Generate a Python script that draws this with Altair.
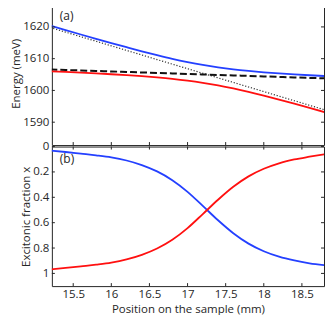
import altair as alt
import pandas as pd

FONT = "Open Sans"
INK = "#262626"
BLUE = "#2440ff"
RED = "#ff1010"

# ---- data ----
position = [15.2, 15.4, 15.6, 15.8, 16.0, 16.2, 16.4, 16.6, 16.8, 17.0,
            17.2, 17.4, 17.6, 17.8, 18.0, 18.2, 18.4, 18.6, 18.8]
upper_polariton = [1620.37, 1618.98, 1617.61, 1616.26, 1614.92, 1613.61, 1612.33, 1611.12,
                   1609.97, 1608.94, 1608.03, 1607.26, 1606.63, 1606.13, 1605.71, 1605.36,
                   1605.05, 1604.78, 1604.53]
lower_polariton = [1606.03, 1605.82, 1605.60, 1605.36, 1605.10, 1604.81, 1604.49, 1604.11,
                   1603.66, 1603.10, 1602.41, 1601.58, 1600.61, 1599.53, 1598.35, 1597.10,
                   1595.81, 1594.49, 1593.15]
exciton = [1606.60, 1606.44, 1606.29, 1606.13, 1605.98, 1605.82, 1605.66, 1605.51, 1605.35,
           1605.20, 1605.04, 1604.88, 1604.73, 1604.57, 1604.42, 1604.26, 1604.10, 1603.95,
           1603.79]
photon = [1619.80, 1618.36, 1616.92, 1615.48, 1614.04, 1612.60, 1611.16, 1609.72, 1608.28,
          1606.84, 1605.40, 1603.96, 1602.52, 1601.08, 1599.64, 1598.20, 1596.76, 1595.32,
          1593.88]
xfrac_upper = [0.032, 0.043, 0.056, 0.069, 0.085, 0.110, 0.146, 0.196, 0.265, 0.357, 0.468,
               0.581, 0.683, 0.765, 0.825, 0.868, 0.898, 0.920, 0.935]
xfrac_lower = [0.968, 0.957, 0.944, 0.931, 0.915, 0.890, 0.854, 0.804, 0.735, 0.643, 0.532,
               0.419, 0.317, 0.235, 0.175, 0.132, 0.102, 0.080, 0.060]

x_ticks = [15.5, 16, 16.5, 17, 17.5, 18, 18.5]
energy_ticks = [1590, 1600, 1610, 1620]
fraction_ticks = [0, 0.2, 0.4, 0.6, 0.8, 1]

X_DOMAIN = [15.22, 18.79]
E_DOMAIN = [1582.8, 1628.0]
F_DOMAIN = [0, 1.1]
W, H_TOP, H_BOT = 273, 144, 140
TICK = 3

df = pd.DataFrame({
    "pos": position, "up": upper_polariton, "lp": lower_polariton,
    "exc": exciton, "phot": photon, "fup": xfrac_upper, "flp": xfrac_lower,
})
xt = pd.DataFrame({"t": x_ticks})
et = pd.DataFrame({"t": energy_ticks})
ft = pd.DataFrame({"t": fraction_ticks})

xscale = alt.Scale(domain=X_DOMAIN, nice=False, zero=False)
escale = alt.Scale(domain=E_DOMAIN, nice=False, zero=False)
fscale = alt.Scale(domain=F_DOMAIN, nice=False, zero=False, reverse=True)

e_axis = alt.Axis(values=energy_ticks, title="Energy (meV)", ticks=False, tickSize=0,
                  domain=False, grid=False, labelPadding=3, titlePadding=1, format="d")
f_axis = alt.Axis(values=fraction_ticks, title="Excitonic fraction x", ticks=False,
                  tickSize=0, domain=False, grid=False, labelPadding=3, titlePadding=1,
                  format="~g")
x_axis_bot = alt.Axis(values=x_ticks, title="Position on the sample (mm)", ticks=False,
                      tickSize=0, domain=False, grid=False, labelPadding=2,
                      titlePadding=4, format="~g")


def line(field, yscale, yaxis, xaxis, color, width, dash=None):
    kw = dict(color=color, strokeWidth=width, clip=True, interpolate="monotone")
    if dash:
        kw["strokeDash"] = dash
    return alt.Chart(df).mark_line(**kw).encode(
        x=alt.X("pos:Q", scale=xscale, axis=xaxis),
        y=alt.Y(f"{field}:Q", scale=yscale, axis=yaxis),
    )


def inner_ticks(h, yscale, yaxis, xaxis, yvals):
    top_t = alt.Chart(xt).mark_rule(color=INK, strokeWidth=1).encode(
        x=alt.X("t:Q", scale=xscale, axis=xaxis), y=alt.value(0), y2=alt.value(TICK))
    bot_t = alt.Chart(xt).mark_rule(color=INK, strokeWidth=1).encode(
        x=alt.X("t:Q", scale=xscale, axis=xaxis), y=alt.value(h), y2=alt.value(h - TICK))
    left_t = alt.Chart(yvals).mark_rule(color=INK, strokeWidth=1).encode(
        y=alt.Y("t:Q", scale=yscale, axis=yaxis), x=alt.value(0), x2=alt.value(TICK))
    right_t = alt.Chart(yvals).mark_rule(color=INK, strokeWidth=1).encode(
        y=alt.Y("t:Q", scale=yscale, axis=yaxis), x=alt.value(W), x2=alt.value(W - TICK))
    return [top_t, bot_t, left_t, right_t]


def panel_label(s, y):
    return alt.Chart(pd.DataFrame({"s": [s]})).mark_text(
        align="left", baseline="middle", font=FONT, fontSize=12, color=INK
    ).encode(x=alt.value(8), y=alt.value(y), text="s:N")


top = alt.layer(
    line("phot", escale, e_axis, None, "#333333", 1.2, [1.2, 1.8]),
    line("exc", escale, e_axis, None, "#111111", 2, [7, 3]),
    line("up", escale, e_axis, None, BLUE, 1.8),
    line("lp", escale, e_axis, None, RED, 1.8),
    *inner_ticks(H_TOP, escale, e_axis, None, et),
    panel_label("(a)", 15),
).properties(width=W, height=H_TOP)

bottom = alt.layer(
    line("fup", fscale, f_axis, x_axis_bot, BLUE, 1.8),
    line("flp", fscale, f_axis, x_axis_bot, RED, 1.8),
    *inner_ticks(H_BOT, fscale, f_axis, x_axis_bot, ft),
    panel_label("(b)", 13),
).properties(width=W, height=H_BOT)

chart = alt.vconcat(top, bottom, spacing=-6.5).properties(
    padding={"left": 2, "top": -8, "right": 0, "bottom": 0}
).configure_view(stroke=INK, strokeWidth=1).configure_axis(
    labelFont=FONT, titleFont=FONT, labelFontSize=11.5, titleFontSize=11.5,
    labelColor=INK, titleColor=INK, titleFontWeight="normal",
)

chart.save("out.html", embed_options={"renderer": "svg", "actions": False})
